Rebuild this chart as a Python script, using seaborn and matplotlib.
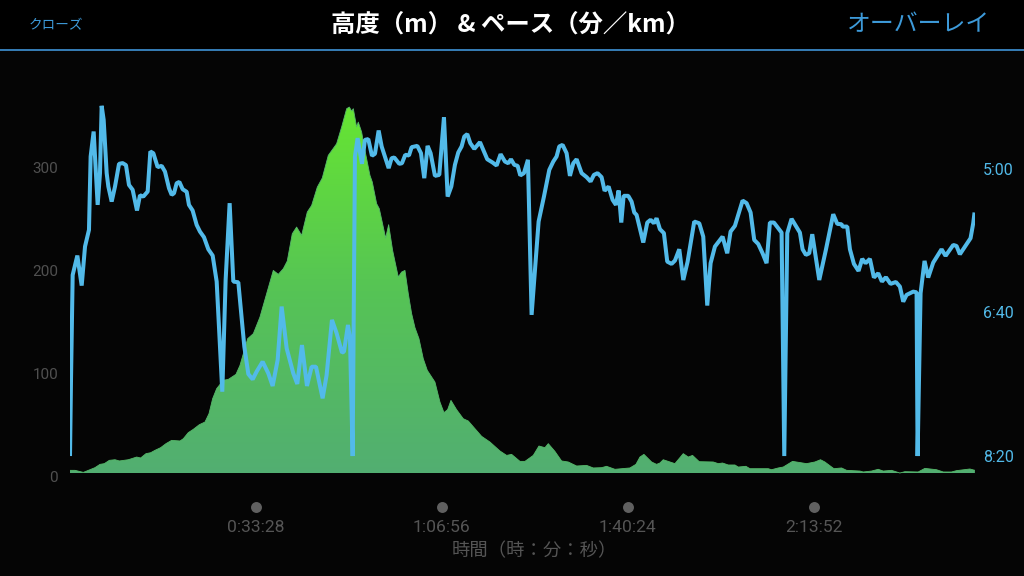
import numpy as np
import pandas as pd
import matplotlib
matplotlib.use('Agg')
import matplotlib.pyplot as plt
from matplotlib.colors import LinearSegmentedColormap
from matplotlib.lines import Line2D
from matplotlib.patches import Rectangle
import seaborn as sns

# elevation (minutes, metres)
elev_time = [0.13,1.03,2.53,3.72,4.62,5.52,6.3,7.2,8.22,9,10.61,11.21,12.11,12.83,13.79,14.63,15.4,16.42,17.38,18.4,
             19.9,20.5,21.39,22.29,23.37,24.39,25.11,25.77,26.49,27.68,28.58,29.96,30.68,31.28,32.06,33.08,34.27,35.47,36.67,37.57,
             38.47,39.18,40.08,40.86,41.76,42.78,43.56,44.58,45.47,46.55,48.05,48.95,49.85,50.33,50.75,51.05,51.64,51.94,52.54,53.14,
             54.04,54.46,55.24,55.72,56.86,57.4,58.11,59.13,59.73,60.33,60.93,61.53,62.13,62.85,63.62,64.34,65.72,66.62,67.34,68,
             68.6,69.61,70.81,71.71,72.91,74.11,75.6,77.4,78.6,79.5,81,81.9,83.39,84.41,85.49,86.09,87.28,88.48,89.68,91.18,
             92.98,94.17,95.67,96.57,98.07,100.76,101.84,102.56,103.28,104.66,105.55,106.15,106.75,108.85,110.35,111.25,112.02,113.22,115.74,116.64,
             117.41,118.43,119.63,120.23,121.61,122.33,125.62,126.22,127.42,128.32,129.99,132.51,134,135.02,135.8,137.42,138.8,139.7,142.1,142.69,
             144.19,145.39,146.29,147.78,149.28,150.18,152.57,153.77,155.87,157.07,158.57,159.46,161.86,162.76]
elev_m = [5.5,5.5,3.5,6.1,8.1,11.3,12,15.2,15.8,14.6,15.8,16.8,18.4,17.5,21.7,22.6,24.9,27.5,31.4,34.6,
          34,36.2,42.1,45.3,49.8,52.4,60.5,75.1,84.8,92.9,93.8,98.7,107.4,118.7,133.3,138.2,154.3,177,199.6,195.8,
          201.3,208.7,235.2,241.7,233.6,256.3,262.7,280.5,289.3,311.3,322.6,338.8,356.6,358.2,354.3,356.6,338.8,343.6,334,316.1,
          291.9,285.4,264.4,259.5,231,244,219.1,193.2,198,199.6,177,157.6,144,133.3,113.9,102.6,91.2,71.8,61.5,64.4,
          73.4,64.4,55.6,53.4,45.9,38.5,33,24.3,20,21,14.2,14.2,20,29.1,27.5,31.4,23.9,14.6,13.6,9.7,
          10.3,7.8,8.1,9.4,6.5,7.8,11.3,18.4,21,13.6,11.3,12.6,15.8,12,21.7,18.4,20,13.9,13.6,12,
          12.6,10.7,10.7,8.7,9.4,7.1,7.1,6.1,7.8,8.7,14.2,12,13.6,15.8,13.6,7.1,7.8,5.5,4.8,3.9,
          4.8,6.5,4.8,5.5,2.9,4.2,3.9,7.4,6.1,3.9,3.9,5.2,6.8,5.5]

# pace (minutes, seconds per km)
pace_time = [0.13,0.31,0.61,1.45,2.23,2.83,3.54,3.84,4.38,5.1,5.52,5.82,6.18,6.72,7.02,7.62,8.22,8.94,9.59,10.19,
             10.73,11.39,12.17,12.71,13.31,14.09,14.57,15.11,15.88,16.6,17.2,17.92,18.4,18.82,19.3,19.78,20.38,21.1,21.51,22.17,
             22.89,23.49,24.21,24.99,25.77,26.49,27.5,28.1,28.82,29.48,30.38,31.46,32.18,32.96,33.67,34.75,35.77,36.55,37.45,38.17,
             39.07,40.26,40.98,41.82,42.72,43.56,44.34,45.53,46.25,47.21,48.05,49.01,49.37,50.09,50.45,50.93,51.34,51.82,52.6,53.14,
             53.74,54.4,54.94,55.6,56.14,57.4,57.93,58.41,59.31,59.79,60.39,61.05,61.53,62.55,63.21,63.8,64.4,64.94,65.72,66.5,
             67.34,68,68.66,69.31,69.91,70.51,70.99,71.53,72.07,72.79,73.81,75.12,76.08,76.8,77.52,78.3,78.9,79.38,79.98,80.58,
             81.06,81.71,82.43,83.09,83.69,84.35,85.31,86.27,86.99,87.58,88.06,88.66,89.38,89.98,90.58,91.18,92.08,92.98,93.69,94.29,
             94.95,95.67,96.21,96.93,97.65,98.25,98.73,99.21,99.63,100.46,101.06,101.54,101.96,103.16,103.88,104.48,105.08,105.55,106.15,106.87,
             107.47,108.25,108.85,109.63,110.35,111.13,112.32,113.22,113.94,114.66,115.26,116.04,117.41,118.25,118.85,119.63,121.01,121.73,122.45,123.1,
             123.82,124.6,125.32,125.92,126.64,128.02,128.5,129.04,129.81,131.31,131.79,132.39,132.99,133.53,134.79,135.98,137.3,138.02,138.8,138.98,
             139.82,140.3,141.02,141.85,142.51,143.11,143.89,144.61,145.39,146.05,146.77,147.6,148.56,149.28,149.88,150.48,151.68,152.28,152.46,153,
             153.71,154.37,155.27,156.77,157.49,158.87,159.46,160.06,161.98,162.46,162.7]
pace_sec = [500,447,373.9,360.4,381.3,354.1,342.5,291.4,274,325.1,303,256.1,265.9,303,312.3,322.8,312.3,296.5,296,297.4,
            311.2,314.6,329,318.4,319.3,315.8,287.9,289.1,298.8,297.9,301.9,313.5,318.1,317,310,309.1,314.2,316,325.1,329,
            339,343.7,347.6,356,360.4,378.5,455.2,377.4,323.9,378.5,379,423.8,442.9,446.6,441.2,434.3,442.4,451.2,433.1,395.9,
            425,442.4,449.8,422.7,451.2,437.8,437.8,459.8,443.6,405.2,414.5,428,427.3,408.7,418,500,291.4,278.6,296.5,279.8,
            279.3,290.9,289.5,273.3,284.4,299.5,292.6,292.1,296.5,296.1,290.2,290.7,284.9,284,289.1,306.5,284,289.1,304.9,304.2,
            264,319.3,312.3,297.2,288.6,284.4,277.5,275.8,282.1,286.1,281.4,293.3,295.6,297.7,289.8,294.9,296.1,293.3,297.2,297.9,
            304.6,303,293.7,401.7,370.4,336.7,319.3,300.7,294.9,291.4,284.4,283.3,289.1,304.9,296.1,293.3,303,305.8,308.8,304.2,
            303,305.8,315.3,312.3,321.6,325.1,315.1,337.4,318.8,318.8,322.8,330.4,332.1,351.3,337.4,335.5,337.9,334.4,342,344.8,
            364.6,366.2,363.9,356,377.4,364.6,336.7,337.9,347.2,395.2,365.7,354.1,347.2,358.8,343.7,339.7,322.1,323.9,330.4,349.5,
            352.3,358.8,365.7,337.4,337.4,344.4,500,344.8,334.8,344.4,356,359.9,358.8,345.5,377.4,356.4,331.6,338.3,338.6,340.2,
            340.2,356,366.2,371.1,362.7,365.7,362.7,375.7,372.7,378.5,375.5,380.1,378.8,382,392.5,387.8,385.5,386,500,386.6,
            364.1,375.7,365.3,356,360.6,353,353.7,359.5,348.3,337.9,330.4]

elev_ticks = [0, 100, 200, 300]
pace_ticks = [300, 400, 500]
pace_labels = ['5:00', '6:40', '8:20']
time_ticks = [33.47, 66.93, 100.4, 133.87]
time_labels = ['0:33:28', '1:06:56', '1:40:24', '2:13:52']

BG = '#050505'
BLUE = '#52BAE9'
GREY = '#555555'
W, H = 1024, 576

sns.set_theme(style='dark', rc={'axes.facecolor': BG, 'figure.facecolor': BG, 'savefig.facecolor': BG})
plt.rcParams['font.family'] = ['Roboto', 'Noto Sans CJK JP', 'DejaVu Sans']

fig = plt.figure(figsize=(10.24, 5.76), dpi=100)
ax = fig.add_axes([70 / W, 1 - 476 / H, 905 / W, 416 / H])

elev = pd.DataFrame({'time': elev_time, 'elevation': elev_m})
pace = pd.DataFrame({'time': pace_time, 'pace': pace_sec})

# green area with a gradient, clipped to the elevation shape
xmin, xmax = 0.13, 162.78
fill = ax.fill_between(elev['time'], elev['elevation'], elev['elevation'].min(), color='none', linewidth=0)
cmap = LinearSegmentedColormap.from_list('elev', ['#52AE72', '#56C455', '#66E532'])
grad = np.linspace(0, 1, 256).reshape(-1, 1)
img = ax.imshow(grad, extent=[xmin, xmax, 0, 360], origin='lower', aspect='auto', cmap=cmap, zorder=1)
img.set_clip_path(fill.get_paths()[0], transform=ax.transData)
sns.lineplot(data=elev, x='time', y='elevation', ax=ax, color='#56B86A', linewidth=0.6, estimator=None, zorder=2)

ax.set_xlim(xmin, xmax)
ax.set_ylim(0, 403.9)
ax.set_yticks(elev_ticks)
ax.tick_params(axis='y', length=0, pad=8.6, labelsize=11, labelcolor='#505050')
ax.set_xticks(time_ticks, time_labels)
ax.tick_params(axis='x', length=0, pad=32, labelsize=12.6, labelcolor=GREY)
ax.set_xlabel('')
ax.set_ylabel('')
ax.grid(False)
sns.despine(ax=ax, left=True, bottom=True)

# pace on its own inverted axis
ax2 = ax.twinx()
ax2.patch.set_visible(False)
sns.lineplot(data=pace, x='time', y='pace', ax=ax2, color=BLUE, linewidth=2.9, estimator=None,
             sort=False, solid_joinstyle='bevel', solid_capstyle='butt')
ax2.set_ylim(513.9, 224.2)
ax2.set_yticks(pace_ticks, pace_labels)
ax2.tick_params(axis='y', length=0, pad=5.8, labelsize=11.5, labelcolor=BLUE)
ax2.set_xlabel('')
ax2.set_ylabel('')
ax2.grid(False)
sns.despine(ax=ax2, left=True, bottom=True, right=True)

# dots above the time labels
ax.scatter(time_ticks, [-0.0745] * len(time_ticks), s=62, color='#606060', linewidths=0,
           transform=ax.get_xaxis_transform(), clip_on=False, zorder=5)

# header bar
fig.add_artist(Rectangle((0, 1 - 49 / H), 1, 49 / H, transform=fig.transFigure, color='black', zorder=0))
fig.add_artist(Line2D([0, 1], [1 - 49.5 / H] * 2, color='#3f93d6', linewidth=1.2))
fig.text(56 / W, 1 - 25 / H, 'クローズ', color='#3d9ad9', fontsize=9.8, ha='center', va='center',
         family=['Noto Sans CJK JP'])
fig.text(510 / W, 1 - 25 / H, '高度（m） & ペース（分／km）', color='white', fontsize=17.6, fontweight='bold',
         ha='center', va='center', family=['Noto Sans CJK JP'])
fig.text(919 / W, 1 - 25 / H, 'オーバーレイ', color='#3d9ad9', fontsize=17.2, ha='center', va='center',
         family=['Noto Sans CJK JP'])
fig.text(534 / W, 1 - 551 / H, '時間（時：分：秒）', color=GREY, fontsize=13.2, ha='center', va='center',
         family=['Noto Sans CJK JP'])

fig.savefig('out.png', dpi=100)
